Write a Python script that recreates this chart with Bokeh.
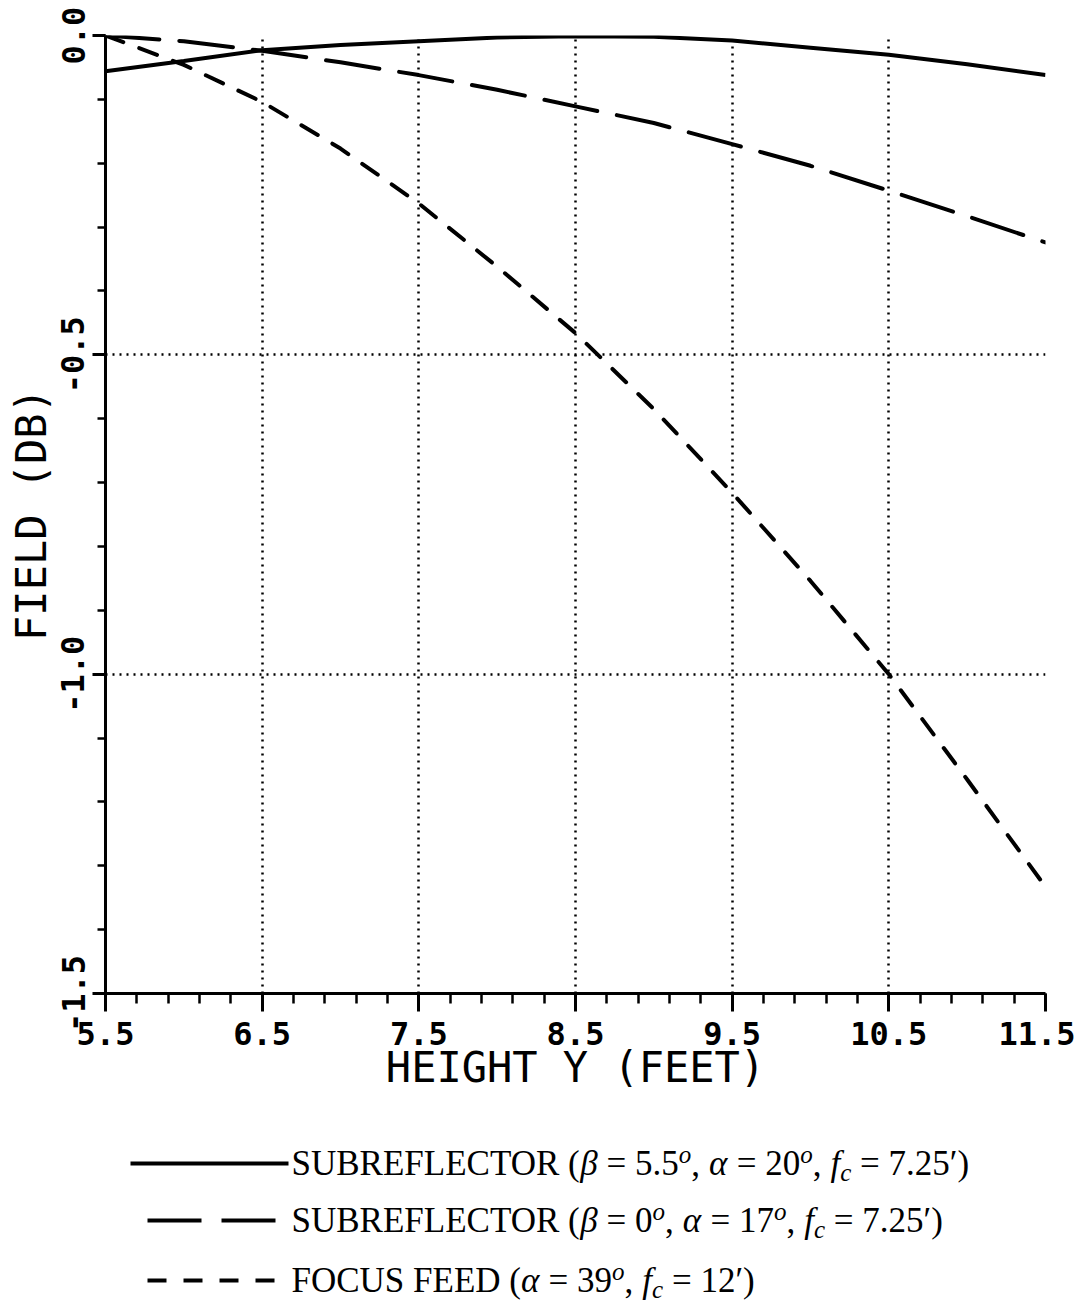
import numpy as np
from bokeh.plotting import figure
from bokeh.models import Range1d, FixedTicker, NumeralTickFormatter, ColumnDataSource
from bokeh.layouts import column
from bokeh.core.properties import value
from bokeh.embed import file_html
from bokeh.resources import INLINE

# ---------------- data ----------------
height_ft = [5.5, 6.0, 6.5, 7.0, 7.5, 8.0, 8.5, 9.0, 9.5, 10.0, 10.5, 11.0, 11.5]
sub_beta55 = [-0.056, -0.040, -0.023, -0.015, -0.009, -0.003, -0.001, -0.002, -0.008, -0.019, -0.030, -0.045, -0.062]
sub_beta0 = [0.0, -0.009, -0.024, -0.042, -0.062, -0.085, -0.111, -0.137, -0.170, -0.204, -0.243, -0.283, -0.324]
focus_feed = [0.0, -0.046, -0.104, -0.177, -0.263, -0.362, -0.466, -0.585, -0.716, -0.854, -1.000, -1.165, -1.333]

x_major = [5.5, 6.5, 7.5, 8.5, 9.5, 10.5, 11.5]
y_major = [-1.5, -1.0, -0.5, 0.0]
x_label = "HEIGHT Y (FEET)"
y_label = "FIELD (DB)"

NB = "\u00a0"
legend_rows = [
    [("SUBREFLECTOR (", "n"), ("β", "i"), (NB + "= 5.5", "n"), ("o", "sup"), (",", "n"), ("α", "i"),
     (NB + "= 20", "n"), ("o", "sup"), (",", "n"), ("f", "i"), ("c", "sub"), (NB + "= 7.25′)", "n")],
    [("SUBREFLECTOR (", "n"), ("β", "i"), (NB + "= 0", "n"), ("o", "sup"), (",", "n"), ("α", "i"),
     (NB + "= 17", "n"), ("o", "sup"), (",", "n"), ("f", "i"), ("c", "sub"), (NB + "= 7.25′)", "n")],
    [("FOCUS FEED (", "n"), ("α", "i"), (NB + "= 39", "n"), ("o", "sup"), (",", "n"),
     ("f", "i"), ("c", "sub"), (NB + "= 12′)", "n")],
]

# ---------------- styles ----------------
W, H_MAIN, H_LEG = 1075, 1118, 185
BL, BR, BT = 105, 30, 35
MONO = "DejaVu Sans Mono"
LONG_DASH = "54 20"
SHORT_DASH = "19 17"
LW = 4

x_minor = [round(v, 2) for v in np.arange(5.5, 11.51, 0.2)]
y_minor = [round(v, 2) for v in np.arange(-1.5, 0.001, 0.1)]

p = figure(width=W, height=H_MAIN, x_range=Range1d(5.5, 11.5), y_range=Range1d(-1.5, 0.0),
           output_backend="svg", toolbar_location=None,
           min_border_left=BL, min_border_right=BR, min_border_top=BT, min_border_bottom=H_MAIN - 993)
p.outline_line_color = None
p.background_fill_color = "white"
p.border_fill_color = "white"

p.xaxis.ticker = FixedTicker(ticks=x_major, minor_ticks=x_minor)
p.yaxis.ticker = FixedTicker(ticks=y_major, minor_ticks=y_minor)
p.xaxis.formatter = NumeralTickFormatter(format="0.0")
p.yaxis.formatter = NumeralTickFormatter(format="0.0")

for ax in (p.xaxis[0], p.yaxis[0]):
    ax.axis_line_width = 3
    ax.axis_line_color = "black"
    ax.major_tick_line_width = 3
    ax.minor_tick_line_width = 2.5
    ax.major_tick_line_color = "black"
    ax.minor_tick_line_color = "black"
    ax.major_tick_in = 0
    ax.minor_tick_in = 0
    ax.major_label_text_font = MONO
    ax.major_label_text_font_size = "32px"
    ax.major_label_text_font_style = "bold"
    ax.major_label_text_color = "black"
    ax.axis_label_text_font = MONO
    ax.axis_label_text_font_size = "42px"
    ax.axis_label_text_font_style = "normal"
    ax.axis_label_text_color = "black"

p.xaxis.major_tick_out = 18
p.xaxis.minor_tick_out = 10
p.yaxis.major_tick_out = 13
p.yaxis.minor_tick_out = 8
p.xaxis.major_label_standoff = 10
p.yaxis.major_label_standoff = 8
p.xaxis.axis_label_standoff = -5
p.yaxis.axis_label_standoff = 3
p.yaxis.major_label_orientation = "vertical"
p.xaxis.axis_label = x_label
p.yaxis.axis_label = y_label

for g in (p.xgrid[0], p.ygrid[0]):
    g.grid_line_color = "black"
    g.grid_line_width = 2.5
    g.grid_line_dash = "2 5"
p.xgrid.ticker = FixedTicker(ticks=x_major)
p.ygrid.ticker = FixedTicker(ticks=y_major)

src = ColumnDataSource(dict(x=height_ft, a=sub_beta55, b=sub_beta0, c=focus_feed))
p.line("x", "a", source=src, line_color="black", line_width=LW)
p.line("x", "b", source=src, line_color="black", line_width=LW, line_dash=LONG_DASH, line_cap="round")
p.line("x", "c", source=src, line_color="black", line_width=LW, line_dash=SHORT_DASH, line_cap="round")

# ---------------- legend (separate panel, page-pixel coordinates) ----------------
TOP = H_MAIN
leg = figure(width=W, height=H_LEG, x_range=Range1d(BL, W - BR), y_range=Range1d(TOP + H_LEG, TOP),
             output_backend="svg", toolbar_location=None, x_axis_type=None, y_axis_type=None,
             min_border_left=BL, min_border_right=BR, min_border_top=0, min_border_bottom=0)
leg.grid.visible = False
leg.outline_line_color = None

TIMES = {' ': 250, NB: 250, '(': 333, ')': 333, '=': 564, ',': 250, '.': 250, 'S': 556, 'U': 722,
         'B': 667, 'R': 667, 'E': 611, 'F': 556, 'L': 611, 'C': 667, 'T': 611, 'O': 722, 'D': 722,
         'β': 500, 'α': 540, '′': 275, 'o': 500, 'f': 278, 'c': 444}
for d in "0123456789":
    TIMES[d] = 500

FS = 35.0
SMALL = 25.0
row_line_y = [1163, 1220, 1280]
sample_x0 = [130, 147, 147]
sample_x1 = 288
text_x0 = 291
dashes = [None, LONG_DASH, SHORT_DASH]
GAP_AFTER_COMMA = 9  # thin space after commas

pieces = {"n": dict(x=[], y=[], t=[]), "i": dict(x=[], y=[], t=[]),
          "sup": dict(x=[], y=[], t=[]), "sub": dict(x=[], y=[], t=[])}
for r, row in enumerate(legend_rows):
    ly = row_line_y[r]
    xc = text_x0
    for txt, kind in row:
        size = SMALL if kind in ("sup", "sub") else FS
        dy = -9 if kind == "sup" else (9 if kind == "sub" else 0)
        pieces[kind]["x"].append(xc)
        pieces[kind]["y"].append(ly + dy)
        pieces[kind]["t"].append(txt)
        xc += sum(TIMES.get(ch, 500) for ch in txt) / 1000.0 * size
        if txt == ",":
            xc += GAP_AFTER_COMMA
    kw = dict(line_color="black", line_width=LW)
    if dashes[r]:
        kw["line_dash"] = dashes[r]
    leg.line([sample_x0[r], sample_x1], [ly, ly], **kw)

styles = {"n": ("normal", FS), "i": ("italic", FS), "sup": ("italic", SMALL), "sub": ("italic", SMALL)}
for kind, d in pieces.items():
    st, size = styles[kind]
    leg.text(x=d["x"], y=d["y"], text=d["t"], text_font=value("Liberation Serif"),
             text_font_size=f"{size:g}px", text_font_style=st, text_color="black",
             text_align="left", text_baseline="middle")

layout = column(p, leg, spacing=0)
open("out.html", "w").write(file_html(layout, INLINE))
